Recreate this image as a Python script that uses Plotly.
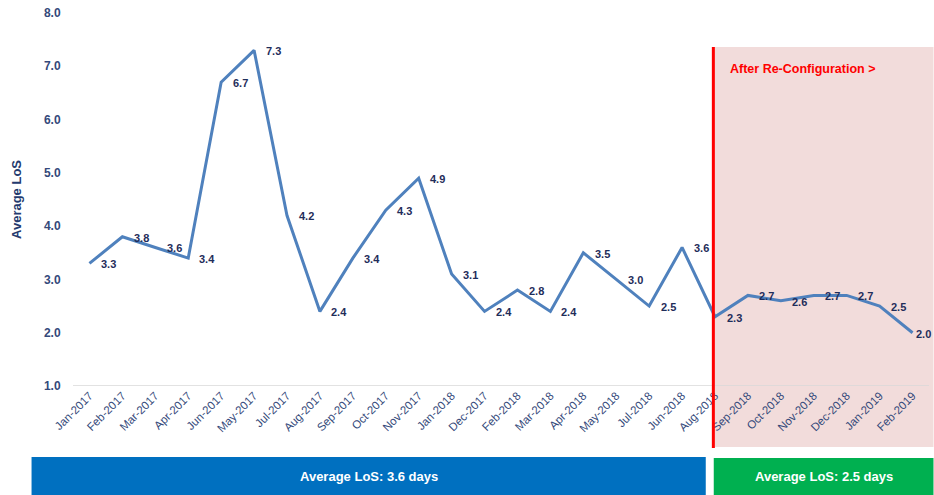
import plotly.graph_objects as go

# Monthly average length of stay (days), in reporting order
months = ["Jan-2017", "Feb-2017", "Mar-2017", "Apr-2017", "Jun-2017", "May-2017",
          "Jul-2017", "Aug-2017", "Sep-2017", "Oct-2017", "Nov-2017", "Jan-2018",
          "Dec-2017", "Feb-2018", "Mar-2018", "Apr-2018", "May-2018", "Jul-2018",
          "Jun-2018", "Aug-2018", "Sep-2018", "Oct-2018", "Nov-2018", "Dec-2018",
          "Jan-2019", "Feb-2019"]
avg_los = [3.3, 3.8, 3.6, 3.4, 6.7, 7.3, 4.2, 2.4, 3.4, 4.3, 4.9, 3.1,
           2.4, 2.8, 2.4, 3.5, 3.0, 2.5, 3.6, 2.3, 2.7, 2.6, 2.7, 2.7,
           2.5, 2.0]
y_ticks = [1.0, 2.0, 3.0, 4.0, 5.0, 6.0, 7.0, 8.0]

reconfig_month = "Aug-2018"
period_labels = ["Average LoS: 3.6 days", "Average LoS: 2.5 days"]

NAVY = "#243A6E"
FONT = "Liberation Sans, Arial, sans-serif"

fig = go.Figure()
fig.add_trace(go.Scatter(
    x=months, y=avg_los, mode="lines",
    line=dict(color="#4F81BD", width=3),
    hoverinfo="x+y", showlegend=False,
))

W, H = 934, 495
ml, mr, mt, mb = 72.5, 4.5, 13, 109
pw, ph = W - ml - mr, H - mt - mb


def px_x(p):
    return (p - ml) / pw


def px_y(p):
    return (H - mb - p) / ph


idx = months.index(reconfig_month)
x_red = idx - 0.05
x_red_px = ml + (x_red + 0.5) / len(months) * pw

shapes = [
    # post re-configuration shading
    dict(type="rect", xref="paper", yref="paper", layer="below",
         x0=px_x(x_red_px), x1=px_x(W), y0=px_y(447), y1=px_y(47),
         fillcolor="#F2DCDB", line=dict(width=0)),
    # re-configuration marker
    dict(type="line", xref="paper", yref="paper",
         x0=px_x(x_red_px), x1=px_x(x_red_px), y0=px_y(448), y1=px_y(47),
         line=dict(color="#FF0000", width=3)),
    # period summary bars
    dict(type="rect", xref="paper", yref="paper",
         x0=px_x(31), x1=px_x(706), y0=px_y(495), y1=px_y(457),
         fillcolor="#0070C0", line=dict(width=0)),
    dict(type="rect", xref="paper", yref="paper",
         x0=px_x(714), x1=px_x(W), y0=px_y(495), y1=px_y(458),
         fillcolor="#00B050", line=dict(width=0)),
    # baseline at the bottom of the value axis
    dict(type="line", xref="paper", yref="y", x0=0, x1=1, y0=1.0, y1=1.0,
         line=dict(color="#D9D9D9", width=1.5), layer="below"),
]

# value labels to the right of each point (the last one is pulled in so it
# stays inside the page)
annotations = []
for i, (m, v) in enumerate(zip(months, avg_los)):
    last = i == len(months) - 1
    annotations.append(dict(
        x=m, y=v, xref="x", yref="y", text=f"{v:.1f}", showarrow=False,
        xanchor="center", yanchor="middle", xshift=11 if last else 19,
        yshift=-1,
        font=dict(family=FONT, size=11, color="#1F2D5A", weight="bold")))

annotations += [
    dict(xref="paper", yref="paper", x=px_x(728), y=px_y(69), xanchor="left",
         yanchor="middle", text="After Re-Configuration >", showarrow=False,
         font=dict(family=FONT, size=12.5, color="#FF0000", weight="bold")),
    dict(xref="paper", yref="paper", x=px_x(368.5), y=px_y(476),
         xanchor="center", yanchor="middle", text=period_labels[0],
         showarrow=False,
         font=dict(family=FONT, size=13, color="white", weight="bold")),
    dict(xref="paper", yref="paper", x=px_x(824), y=px_y(476),
         xanchor="center", yanchor="middle", text=period_labels[1],
         showarrow=False,
         font=dict(family=FONT, size=13, color="white", weight="bold")),
]

fig.update_layout(
    width=W, height=H,
    margin=dict(l=ml, r=mr, t=mt, b=mb, pad=0),
    plot_bgcolor="white", paper_bgcolor="white",
    shapes=shapes, annotations=annotations,
    font=dict(family=FONT, color=NAVY),
    xaxis=dict(
        type="category", categoryorder="array", categoryarray=months,
        range=[-0.5, len(months) - 0.5],
        tickangle=-45, tickfont=dict(family=FONT, size=11.5, color="#34497A"),
        showgrid=False, showline=False, zeroline=False, ticks="",
    ),
    yaxis=dict(
        range=[1.0, 8.0], tickvals=y_ticks, tickformat=".1f",
        tickfont=dict(family=FONT, size=12, color="#34497A", weight="bold"),
        showgrid=False, zeroline=False, showline=False, ticks="outside",
        ticklen=9, tickcolor="rgba(0,0,0,0)",
        title=dict(text="Average LoS", standoff=19,
                   font=dict(family=FONT, size=13, color=NAVY, weight="bold")),
    ),
)

fig.write_html("out.html")
